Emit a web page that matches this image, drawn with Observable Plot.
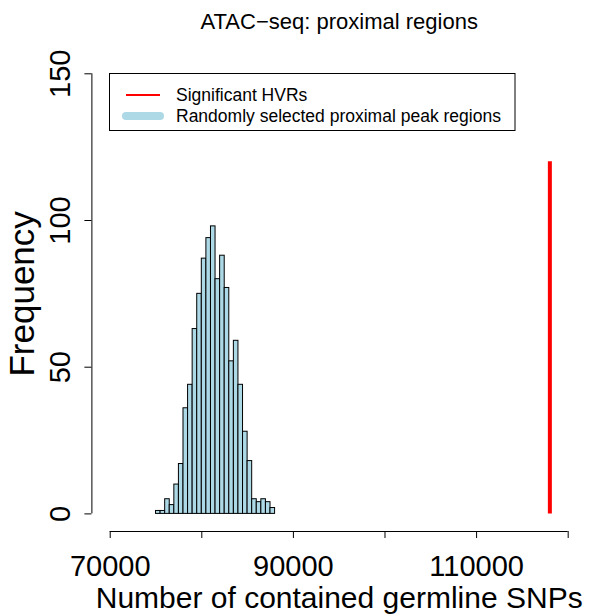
<!DOCTYPE html>
<html>
<head>
<meta charset="utf-8">
<script src="https://cdn.jsdelivr.net/npm/d3@7"></script>
<script src="https://cdn.jsdelivr.net/npm/@observablehq/plot@0.6"></script>
<style>
  html, body { margin: 0; padding: 0; background: #fff; }
  svg { display: block; }
</style>
</head>
<body>
<div id="chart"></div>
<script>
// ---- data ----
const binEdges = [75000, 75500, 76000, 76500, 77000, 77500, 78000, 78500, 79000, 79500,
                  80000, 80500, 81000, 81500, 82000, 82500, 83000, 83500, 84000, 84500,
                  85000, 85500, 86000, 86500, 87000, 87500, 88000];
const counts = [1, 1, 5, 3, 10, 17, 36, 44, 63, 75, 87, 94, 98, 80, 88, 77, 52, 59, 44, 28,
                18, 5, 4, 5, 4, 2];
const observedSNPs = [118000];
const observedHeight = [120];

const xTicks = [70000, 80000, 90000, 100000, 110000, 120000];
const xTickLabels = ["70000", "", "90000", "", "110000", ""];
const yTicks = [0, 50, 100, 150];
const yTickLabels = ["0", "50", "100", "150"];

const titleText = "ATAC\u2212seq: proximal regions";
const xLabel = "Number of contained germline SNPs";
const yLabel = "Frequency";
const legendLabels = ["Significant HVRs", "Randomly selected proximal peak regions"];
const legendColors = ["red", "lightblue"];

// ---- derived ----
const bins = counts.map((c, i) => ({x1: binEdges[i], x2: binEdges[i + 1], count: c}));
const xPad = 0.04 * (xTicks[xTicks.length - 1] - xTicks[0]);
const yPad = 0.04 * (yTicks[yTicks.length - 1] - yTicks[0]);
const xDomain = [xTicks[0] - xPad, xTicks[xTicks.length - 1] + xPad];
const yDomain = [yTicks[0] - yPad, yTicks[yTicks.length - 1] + yPad];
const font = "'Liberation Sans', Arial, Helvetica, sans-serif";

const chart = Plot.plot({
  width: 592,
  height: 616,
  marginLeft: 91.4,
  marginRight: 6,
  marginTop: 55.7,
  marginBottom: 85,
  style: {fontFamily: font, color: "black", background: "white", overflow: "visible"},
  x: {domain: xDomain},
  y: {domain: yDomain},
  marks: [
    Plot.rectY(bins, {x1: "x1", x2: "x2", y1: 0, y2: "count", fill: "#ADD8E6", stroke: "black", strokeWidth: 1}),
    Plot.ruleX(observedSNPs, {x: d => d, y1: 0, y2: (d, i) => observedHeight[i], stroke: "red", strokeWidth: 4}),
    // axis lines (R style: from first to last tick)
    Plot.ruleY([yDomain[0]], {x1: xTicks[0], x2: xTicks[xTicks.length - 1], stroke: "black"}),
    Plot.ruleX([xDomain[0]], {y1: yTicks[0], y2: yTicks[yTicks.length - 1], stroke: "black"}),
    Plot.axisX({ticks: xTicks, tickSize: 7, tickPadding: 17, fontSize: 29, label: null,
      tickFormat: d => xTickLabels[xTicks.indexOf(d)]}),
    Plot.axisY({ticks: yTicks, tickSize: 7, label: null, tickFormat: () => ""}),
    Plot.text(yTicks, {y: d => d, text: d => yTickLabels[yTicks.indexOf(d)], frameAnchor: "left",
      textAnchor: "middle", lineAnchor: "middle", dx: -30.7, rotate: -90, fontSize: 29}),
    Plot.text([yLabel], {frameAnchor: "left", textAnchor: "middle", lineAnchor: "middle",
      dx: -69.5, rotate: -90, fontSize: 35}),
    Plot.text([xLabel], {frameAnchor: "bottom", textAnchor: "middle", lineAnchor: "middle",
      dy: 66.4, fontSize: 30}),
    Plot.text([titleText], {frameAnchor: "top", textAnchor: "middle", lineAnchor: "middle",
      dy: -34, fontSize: 22})
  ]
});

// legend (R-style box in the top-left of the plot region)
const svg = d3.select(chart);
const lg = svg.append("g").attr("font-family", font).attr("font-size", 17.5)
  .attr("text-anchor", "start");
lg.append("rect").attr("x", 109.5).attr("y", 73.5).attr("width", 405.5).attr("height", 57)
  .attr("fill", "white").attr("stroke", "black").attr("stroke-width", 1);
lg.append("line").attr("x1", 126).attr("x2", 160).attr("y1", 95).attr("y2", 95)
  .attr("stroke", legendColors[0]).attr("stroke-width", 2);
lg.append("line").attr("x1", 126).attr("x2", 160).attr("y1", 116).attr("y2", 116)
  .attr("stroke", legendColors[1]).attr("stroke-width", 8).attr("stroke-linecap", "round");
lg.selectAll("text.lab").data(legendLabels).join("text").attr("class", "lab")
  .attr("x", 176).attr("y", (d, i) => 101 + i * 21).attr("fill", "black")
  .attr("text-anchor", "start").text(d => d);

document.getElementById("chart").appendChild(chart);
</script>
</body>
</html>
